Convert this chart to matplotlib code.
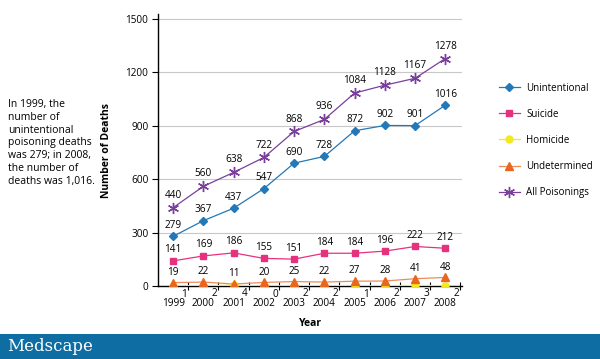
import matplotlib
matplotlib.use("Agg")
import matplotlib.pyplot as plt
from matplotlib.patches import Rectangle
import numpy as np

years = ["1999", "2000", "2001", "2002", "2003", "2004", "2005", "2006", "2007", "2008"]
unintentional = [279, 367, 437, 547, 690, 728, 872, 902, 901, 1016]
suicide = [141, 169, 186, 155, 151, 184, 184, 196, 222, 212]
homicide = [1, 2, 4, 0, 2, 2, 1, 2, 3, 2]
undetermined = [19, 22, 11, 20, 25, 22, 27, 28, 41, 48]
all_poisonings = [440, 560, 638, 722, 868, 936, 1084, 1128, 1167, 1278]
y_ticks = [0, 300, 600, 900, 1200, 1500]

plt.rcParams['font.family'] = ['Open Sans', 'DejaVu Sans']

fig = plt.figure(figsize=(6.0, 3.59), dpi=100)
ax = fig.add_axes([158/600, 1-286/359, (462-158)/600, (286-14)/359])

x = np.arange(len(years))
series = [
    ("Unintentional", unintentional, "#2378b8", "D", 4, "#2378b8"),
    ("Suicide", suicide, "#e6317f", "s", 5, "#e6317f"),
    ("Homicide", homicide, "#f2ea1a", "o", 5, "#f2ea1a"),
    ("Undetermined", undetermined, "#f08a5a", "^", 5.5, "#e8661e"),
    ("All Poisonings", all_poisonings, "#7a3f9d", (6, 2, 0), 8, "#7a3f9d"),
]
for name, vals, col, mk, ms, mcol in series:
    ax.plot(x, vals, color=col, marker=mk, markersize=ms, lw=0.9,
            markerfacecolor=mcol, markeredgecolor=mcol, label=name,
            markeredgewidth=1.0, zorder=3)

fs = 7.2
for i in x:
    ax.annotate(str(unintentional[i]), (i, unintentional[i]), xytext=(0, 4),
                textcoords="offset points", ha="center", va="bottom", fontsize=fs)
    ax.annotate(str(all_poisonings[i]), (i, all_poisonings[i]), xytext=(0, 5),
                textcoords="offset points", ha="center", va="bottom", fontsize=fs)
    ax.annotate(str(suicide[i]), (i, suicide[i]), xytext=(0, 4),
                textcoords="offset points", ha="center", va="bottom", fontsize=fs)
    ax.annotate(str(undetermined[i]), (i, undetermined[i]), xytext=(0, 3.5),
                textcoords="offset points", ha="center", va="bottom", fontsize=fs)
    ax.annotate(str(homicide[i]), (i, homicide[i]), xytext=(8, -2),
                textcoords="offset points", ha="center", va="top", fontsize=fs)

ax.set_xlim(-0.5, 9.55)
ax.set_ylim(0, 1528)
ax.set_yticks(y_ticks)
ax.set_yticklabels([str(v) for v in y_ticks], fontsize=7.2)
ax.set_xticks(x)
ax.set_xticklabels(years, fontsize=7.2)
ax.set_xticks(np.arange(0.5, 9.6, 1.0), minor=True)
ax.tick_params(axis="x", which="major", length=0, pad=9)
ax.tick_params(axis="x", which="minor", length=6, direction="inout", width=0.8)
ax.tick_params(axis="y", length=4, direction="out", width=0.8, pad=3)
ax.grid(axis="y", color="#c8c8c8", lw=0.8)
ax.set_axisbelow(True)
for s in ["top", "right"]:
    ax.spines[s].set_visible(False)
ax.spines["left"].set_linewidth(1.0)
ax.spines["bottom"].set_linewidth(1.0)

ax.set_ylabel("Number of Deaths", fontsize=7.5, fontweight="bold", labelpad=10)
ax.set_xlabel("Year", fontsize=7.5, fontweight="bold", labelpad=6)

leg = fig.legend(loc="upper left", bbox_to_anchor=(490/600, 1-74/359), frameon=False,
                 fontsize=7.0, labelspacing=1.55, handlelength=2.2, handletextpad=0.6)

fig.text(8/600, 1-99/359,
         "In 1999, the\nnumber of\nunintentional\npoisoning deaths\nwas 279; in 2008,\nthe number of\ndeaths was 1,016.",
         fontsize=7.5, va="top", ha="left", linespacing=1.22)

fig.patches.append(Rectangle((0, 0), 1, 25/359, transform=fig.transFigure,
                             facecolor="#0e6ea4", edgecolor="none", zorder=0))
fig.text(7/600, 12.5/359, "Medscape", fontsize=12, color="white", family="DejaVu Serif",
         va="center", ha="left")

fig.savefig("out.png", dpi=100)
